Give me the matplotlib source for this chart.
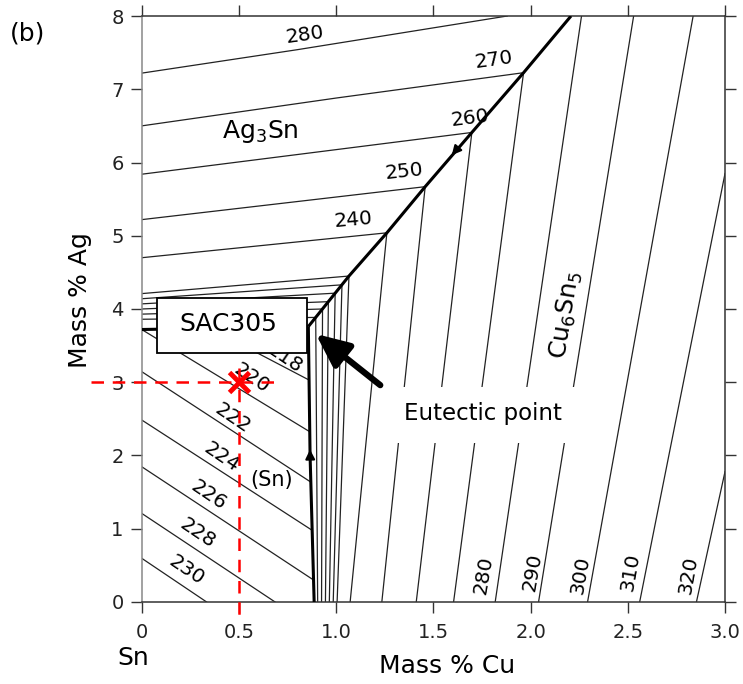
import matplotlib
matplotlib.use("Agg")
import matplotlib.pyplot as plt
import matplotlib.patches as mpatches

# liquidus grooves (thick lines)
groove_ag3sn_cu6sn5_x = [0.857, 1.066, 1.261, 1.458, 1.698, 1.964, 2.208]
groove_ag3sn_cu6sn5_y = [3.76, 4.45, 5.04, 5.67, 6.41, 7.226, 8.0]
groove_sn_cu6sn5_x = [0.857, 0.866, 0.887]
groove_sn_cu6sn5_y = [3.76, 2.0, 0.0]
groove_sn_ag3sn_x = [0.0, 0.857]
groove_sn_ag3sn_y = [3.72, 3.76]

# Ag3Sn primary field isotherms
ag3sn_iso_x = [[0.0, 0.8, 1.88], [0.0, 1.0, 1.964], [0.0, 1.698], [0.0, 1.458], [0.0, 1.261],
               [0.0, 1.066], [0.0, 1.03], [0.0, 0.995], [0.0, 0.96], [0.0, 0.93], [0.0, 0.895]]
ag3sn_iso_y = [[7.22, 7.54, 8.0], [6.50, 6.88, 7.226], [5.84, 6.41], [5.22, 5.67], [4.70, 5.04],
               [4.21, 4.45], [4.14, 4.33], [4.07, 4.216], [4.00, 4.10], [3.93, 4.0], [3.86, 3.885]]

# Cu6Sn5 primary field isotherms
cu6sn5_iso_x = [[1.261, 1.072], [1.458, 1.235], [1.698, 1.412], [1.964, 1.604], [2.262, 1.818],
                [2.53, 2.041], [2.836, 2.293], [3.0, 2.561], [3.0, 2.853],
                [1.066, 1.005], [1.03, 0.985], [0.995, 0.965], [0.96, 0.945], [0.93, 0.925], [0.895, 0.905]]
cu6sn5_iso_y = [[5.04, 0.0], [5.67, 0.0], [6.41, 0.0], [7.226, 0.0], [8.0, 0.0],
                [8.0, 0.0], [8.0, 0.0], [5.85, 0.0], [1.78, 0.0],
                [4.45, 0.0], [4.33, 0.0], [4.216, 0.0], [4.10, 0.0], [4.0, 0.0], [3.885, 0.0]]

# (Sn) primary field isotherms
sn_iso_x = [[0.0, 0.334], [0.0, 0.686], [0.0, 0.884], [0.0, 0.876], [0.0, 0.868], [0.0, 0.864], [0.35, 0.861]]
sn_iso_y = [[0.597, 0.0], [1.21, 0.0], [1.847, 0.30], [2.485, 0.98], [3.145, 1.64], [3.72, 2.325], [3.74, 3.03]]

# isotherm labels: text, x, y, rotation
iso_labels = ["280", "270", "260", "250", "240",
              "220", "222", "224", "226", "228", "230", "218",
              "280", "290", "300", "310", "320"]
iso_label_x = [0.84, 1.81, 1.69, 1.35, 1.09,
               0.566, 0.47, 0.41, 0.343, 0.29, 0.23, 0.735,
               1.758, 2.007, 2.256, 2.513, 2.813]
iso_label_y = [7.74, 7.40, 6.60, 5.88, 5.22,
               3.05, 2.51, 1.98, 1.46, 0.94, 0.44, 3.33,
               0.37, 0.41, 0.37, 0.41, 0.37]
iso_label_rot = [8, 8, 7, 6, 5,
                 -34, -34, -34, -34, -34, -34, -34,
                 80, 80, 80, 80, 80]

sac305_x, sac305_y = 0.5, 3.0
xticks = [0, 0.5, 1.0, 1.5, 2.0, 2.5, 3.0]
xtick_labels = ["0", "0.5", "1.0", "1.5", "2.0", "2.5", "3.0"]
yticks = [0, 1, 2, 3, 4, 5, 6, 7, 8]

fig = plt.figure(figsize=(7.43, 6.84), dpi=100)
ax = fig.add_axes([0.1907, 0.1199, 0.7851, 0.8567])
ax.set_xlim(0, 3.0)
ax.set_ylim(0, 8)

line_col = "#222222"
for xs, ys in zip(ag3sn_iso_x, ag3sn_iso_y):
    ax.plot(xs, ys, color=line_col, lw=0.9, zorder=2)
for xs, ys in zip(cu6sn5_iso_x, cu6sn5_iso_y):
    ax.plot(xs, ys, color=line_col, lw=0.9, zorder=2)
for xs, ys in zip(sn_iso_x, sn_iso_y):
    ax.plot(xs, ys, color=line_col, lw=0.9, zorder=2)

for xs, ys in [(groove_ag3sn_cu6sn5_x, groove_ag3sn_cu6sn5_y),
               (groove_sn_cu6sn5_x, groove_sn_cu6sn5_y),
               (groove_sn_ag3sn_x, groove_sn_ag3sn_y)]:
    ax.plot(xs, ys, color="black", lw=2.2, zorder=3, solid_capstyle="butt")

# small arrows on the grooves
ax.annotate("", xy=(1.585, 6.07), xytext=(1.64, 6.24),
            arrowprops=dict(arrowstyle="-|>", color="black", lw=1.5, mutation_scale=14), zorder=4)
ax.annotate("", xy=(0.8655, 2.12), xytext=(0.867, 1.9),
            arrowprops=dict(arrowstyle="-|>", color="black", lw=1.5, mutation_scale=14), zorder=4)

for t, x, y, r in zip(iso_labels, iso_label_x, iso_label_y, iso_label_rot):
    ax.text(x, y, t, fontsize=14.5, rotation=r, ha="center", va="center",
            rotation_mode="anchor", zorder=4)

ax.text(0.61, 6.42, r"Ag$_3$Sn", fontsize=18, ha="center", va="center", zorder=4)
ax.text(2.18, 3.92, r"Cu$_6$Sn$_5$", fontsize=18, rotation=81, ha="center", va="center",
        rotation_mode="anchor", zorder=4)
ax.text(0.67, 1.67, "(Sn)", fontsize=15, ha="center", va="center", zorder=4)

# SAC305 box
ax.add_patch(mpatches.Rectangle((0.079, 3.403), 0.77, 0.751, facecolor="white",
                                edgecolor="black", lw=1.3, zorder=6))
ax.text(0.443, 3.79, "SAC305", fontsize=18, ha="center", va="center", zorder=7)

# eutectic label
ax.add_patch(mpatches.Rectangle((1.242, 2.17), 1.04, 0.765, facecolor="white",
                                edgecolor="none", zorder=6))
ax.text(1.757, 2.57, "Eutectic point", fontsize=16.5, ha="center", va="center", zorder=7)
ax.annotate("", xy=(0.895, 3.66), xytext=(1.227, 2.96),
            arrowprops=dict(arrowstyle="-|>,head_length=1.0,head_width=0.45", color="black",
                            lw=4.5, mutation_scale=20, shrinkA=0, shrinkB=0), zorder=8)

# SAC305 composition
ax.plot([-0.26, 0.68], [sac305_y, sac305_y], color="red", lw=1.8, ls=(0, (5, 3.5)),
        clip_on=False, zorder=9)
ax.plot([sac305_x, sac305_x], [3.2, -0.27], color="red", lw=1.8, ls=(0, (5, 3.5)),
        clip_on=False, zorder=9)
ax.plot([sac305_x], [sac305_y], marker="x", color="red", ms=15, mew=3.5, zorder=10)

ax.set_xticks(xticks)
ax.set_xticklabels(xtick_labels)
ax.set_yticks(yticks)
ax.tick_params(which="both", direction="out", length=8, width=1, colors="#333333",
               labelsize=14, top=True, right=True, labeltop=False, labelright=False)
ax.tick_params(axis="x", pad=7, labelcolor="#222222")
ax.tick_params(axis="y", pad=5, labelcolor="#222222")
for side in ["top", "bottom", "right"]:
    ax.spines[side].set_color("#333333")
    ax.spines[side].set_linewidth(1.1)
ax.spines["left"].set_color("#888888")
ax.spines["left"].set_linewidth(1.1)

fig.text(447 / 743, 1 - 666 / 684, "Mass % Cu", fontsize=18, ha="center", va="center")
fig.text(80 / 743, 1 - 300 / 684, "Mass % Ag", fontsize=18, rotation=90, ha="center", va="center")
fig.text(133 / 743, 1 - 658 / 684, "Sn", fontsize=18, ha="center", va="center")
fig.text(27.5 / 743, 1 - 34 / 684, "(b)", fontsize=18, ha="center", va="center")

fig.savefig("out.png", dpi=100)
